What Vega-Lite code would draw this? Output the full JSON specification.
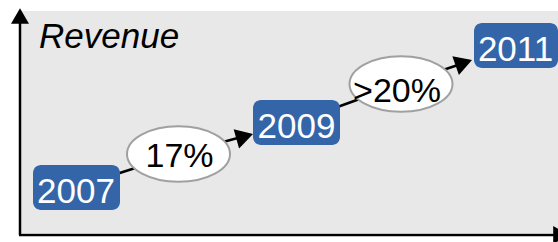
{
  "$schema": "https://vega.github.io/schema/vega-lite/v6.json",
  "width": 558,
  "height": 242,
  "padding": 0,
  "autosize": {"type": "none"},
  "background": "white",
  "config": {"view": {"stroke": null}, "font": "Liberation Sans"},
  "datasets": {
    "panel": [{"x": 21, "x2": 558, "y": 9, "y2": 231}],
    "axes": [
      {"x": 20, "x2": 20, "y": 7, "y2": 228},
      {"x": 19, "x2": 556, "y": 7, "y2": 7}
    ],
    "axisTop": [{"x": 20, "y": 226}],
    "axisRight": [{"x": 561, "y": 7}],
    "links": [
      {"x": 76, "y": 55, "x2": 179, "y2": 88},
      {"x": 179, "y": 88, "x2": 245, "y2": 106},
      {"x": 296, "y": 120, "x2": 401, "y2": 158},
      {"x": 401, "y": 158, "x2": 464, "y2": 179}
    ],
    "head1": [{"x": 244.7, "y": 105.6}],
    "head2": [{"x": 463.8, "y": 179.2}],
    "boxes": [
      {"label": "2007", "x": 33, "x2": 120, "y": 32, "y2": 77, "cx": 76, "ty": 39},
      {"label": "2009", "x": 253, "x2": 340, "y": 97, "y2": 142, "cx": 296.5, "ty": 104},
      {"label": "2011", "x": 474, "x2": 558, "y": 174, "y2": 219, "cx": 515.5, "ty": 181}
    ],
    "ovals": [
      {"label": "17%", "x": 178.5, "y": 88, "tx": 179.5, "ty": 75},
      {"label": ">20%", "x": 401, "y": 158, "tx": 397, "ty": 140}
    ],
    "title": [{"label": "Revenue", "x": 39, "y": 194}]
  },
  "layer": [
    {
      "data": {"name": "panel"},
      "mark": {"type": "rect", "color": "#e8e8e8"},
      "encoding": {
        "x": {"field": "x", "type": "quantitative", "scale": {"domain": [0, 558], "nice": false, "zero": false}, "axis": null},
        "x2": {"field": "x2"},
        "y": {"field": "y", "type": "quantitative", "scale": {"domain": [0, 242], "nice": false, "zero": false}, "axis": null},
        "y2": {"field": "y2"}
      }
    },
    {
      "data": {"name": "axes"},
      "mark": {"type": "rule", "color": "black", "strokeWidth": 2.5},
      "encoding": {
        "x": {"field": "x", "type": "quantitative"},
        "x2": {"field": "x2"},
        "y": {"field": "y", "type": "quantitative"},
        "y2": {"field": "y2"}
      }
    },
    {
      "data": {"name": "axisTop"},
      "mark": {"type": "point", "shape": "triangle-up", "size": 324, "filled": true, "color": "black", "opacity": 1},
      "encoding": {
        "x": {"field": "x", "type": "quantitative"},
        "y": {"field": "y", "type": "quantitative"}
      }
    },
    {
      "data": {"name": "axisRight"},
      "mark": {"type": "point", "shape": "triangle-right", "size": 324, "filled": true, "color": "black", "opacity": 1},
      "encoding": {
        "x": {"field": "x", "type": "quantitative"},
        "y": {"field": "y", "type": "quantitative"}
      }
    },
    {
      "data": {"name": "links"},
      "mark": {"type": "rule", "color": "black", "strokeWidth": 2.5},
      "encoding": {
        "x": {"field": "x", "type": "quantitative"},
        "x2": {"field": "x2"},
        "y": {"field": "y", "type": "quantitative"},
        "y2": {"field": "y2"}
      }
    },
    {
      "data": {"name": "head1"},
      "mark": {"type": "point", "shape": "triangle-right", "size": 400, "filled": true, "color": "black", "opacity": 1, "angle": 344.2},
      "encoding": {
        "x": {"field": "x", "type": "quantitative"},
        "y": {"field": "y", "type": "quantitative"}
      }
    },
    {
      "data": {"name": "head2"},
      "mark": {"type": "point", "shape": "triangle-right", "size": 400, "filled": true, "color": "black", "opacity": 1, "angle": 340.8},
      "encoding": {
        "x": {"field": "x", "type": "quantitative"},
        "y": {"field": "y", "type": "quantitative"}
      }
    },
    {
      "data": {"name": "boxes"},
      "mark": {"type": "rect", "color": "#3465a8", "cornerRadius": 8},
      "encoding": {
        "x": {"field": "x", "type": "quantitative"},
        "x2": {"field": "x2"},
        "y": {"field": "y", "type": "quantitative"},
        "y2": {"field": "y2"}
      }
    },
    {
      "data": {"name": "boxes"},
      "mark": {"type": "text", "color": "white", "fontSize": 35, "align": "center", "baseline": "alphabetic", "font": "Liberation Sans"},
      "encoding": {
        "x": {"field": "cx", "type": "quantitative"},
        "y": {"field": "ty", "type": "quantitative"},
        "text": {"field": "label"}
      }
    },
    {
      "data": {"name": "ovals"},
      "mark": {"type": "point", "shape": "M-1,0A1,0.54,0,1,0,1,0A1,0.54,0,1,0,-1,0Z", "size": 10609, "filled": true, "fill": "white", "stroke": "#a0a0a0", "strokeWidth": 2, "opacity": 1, "fillOpacity": 1},
      "encoding": {
        "x": {"field": "x", "type": "quantitative"},
        "y": {"field": "y", "type": "quantitative"}
      }
    },
    {
      "data": {"name": "ovals"},
      "mark": {"type": "text", "color": "black", "fontSize": 34, "align": "center", "baseline": "alphabetic", "font": "Liberation Sans"},
      "encoding": {
        "x": {"field": "tx", "type": "quantitative"},
        "y": {"field": "ty", "type": "quantitative"},
        "text": {"field": "label"}
      }
    },
    {
      "data": {"name": "title"},
      "mark": {"type": "text", "color": "black", "fontSize": 35, "fontStyle": "italic", "align": "left", "baseline": "alphabetic", "font": "Liberation Sans"},
      "encoding": {
        "x": {"field": "x", "type": "quantitative"},
        "y": {"field": "y", "type": "quantitative"},
        "text": {"field": "label"}
      }
    }
  ]
}
